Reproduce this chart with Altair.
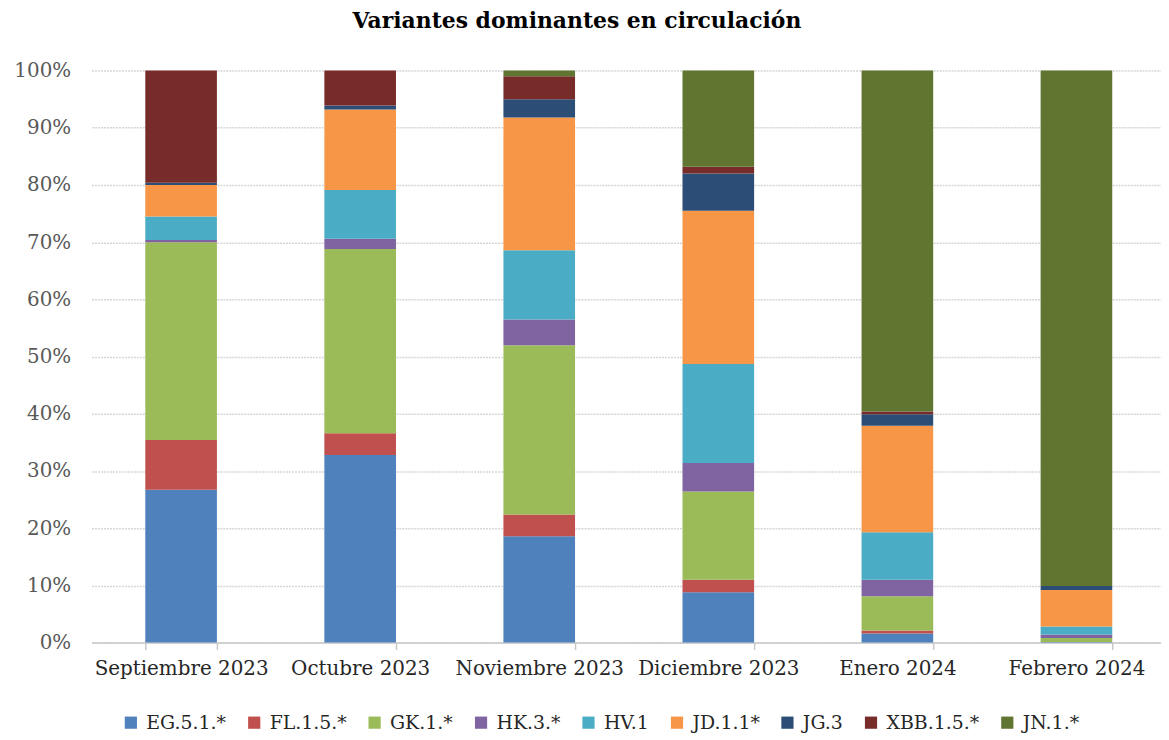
import altair as alt
import pandas as pd

months = ["Septiembre 2023", "Octubre 2023", "Noviembre 2023", "Diciembre 2023", "Enero 2024", "Febrero 2024"]
variants = ["EG.5.1.*", "FL.1.5.*", "GK.1.*", "HK.3.*", "HV.1", "JD.1.1*", "JG.3", "XBB.1.5.*", "JN.1.*"]
colors = ["#4F81BD", "#C0504D", "#9BBB59", "#8064A2", "#4BACC6", "#F79646", "#2C4D75", "#772C2A", "#5F7530"]

EG = [26.7, 32.8, 18.6, 8.8, 1.6, 0.1]
FL = [8.7, 3.8, 3.8, 2.2, 0.5, 0.0]
GK = [34.6, 32.2, 29.6, 15.4, 6.0, 0.7]
HK = [0.4, 1.8, 4.5, 5.0, 2.9, 0.6]
HV = [4.1, 8.5, 12.1, 17.3, 8.3, 1.4]
JD = [5.5, 14.1, 23.2, 26.8, 18.6, 6.4]
JG = [0.4, 0.7, 3.2, 6.5, 2.0, 0.7]
XBB = [19.6, 6.1, 4.0, 1.2, 0.5, 0.0]
JN = [0.0, 0.0, 1.0, 16.8, 59.6, 90.1]

series = [EG, FL, GK, HK, HV, JD, JG, XBB, JN]
rows = []
for vi, (name, vals) in enumerate(zip(variants, series)):
    for m, v in zip(months, vals):
        rows.append({"mes": m, "variante": name, "valor": v, "orden": vi})
df = pd.DataFrame(rows)

FONT = "DejaVu Serif"

chart = alt.Chart(df).mark_bar().encode(
    x=alt.X("mes:N", sort=months, title=None,
            scale=alt.Scale(paddingInner=0.6, paddingOuter=0.3, range=[0, 1080]),
            axis=alt.Axis(labelAngle=0, labelFont=FONT, labelFontSize=20, labelColor="#262626",
                          labelPadding=9, domainColor="#c8c8c8", domainWidth=1.5,
                          tickColor="#c8c8c8", tickSize=7, tickWidth=1.5, tickBand="extent",
                          grid=False)),
    y=alt.Y("valor:Q", stack="normalize", title=None,
            scale=alt.Scale(domain=[0, 1]),
            axis=alt.Axis(format=".0%", values=[i / 10 for i in range(11)], labelFont=FONT,
                          labelFontSize=20, labelColor="#595959", labelPadding=21,
                          domain=False, ticks=False, gridColor="#d6d6d6", gridWidth=1.5,
                          gridDash=[2, 1])),
    color=alt.Color("variante:N", sort=variants,
                    scale=alt.Scale(domain=variants, range=colors),
                    legend=alt.Legend(title=None, orient="none", direction="horizontal",
                                      legendX=30, legendY=646, symbolType="square",
                                      symbolSize=150, symbolStrokeWidth=0, labelFont=FONT,
                                      labelFontSize=19, labelColor="#262626", labelOffset=6,
                                      columnPadding=18, columns=9, gridAlign="none")),
    order=alt.Order("orden:Q", sort="ascending"),
).properties(
    width=1075,
    height=575,
    title=alt.TitleParams("Variantes dominantes en circulación", font=FONT, fontSize=22,
                          fontWeight="bold", color="#000000", anchor="middle", frame="bounds",
                          offset=28, dx=-13),
    padding={"left": 84, "top": 61, "right": 0, "bottom": 90},
    autosize=alt.AutoSizeParams(type="none"),
).configure_view(stroke=None)

chart.save("out.html", embed_options={"renderer": "svg", "actions": False})
